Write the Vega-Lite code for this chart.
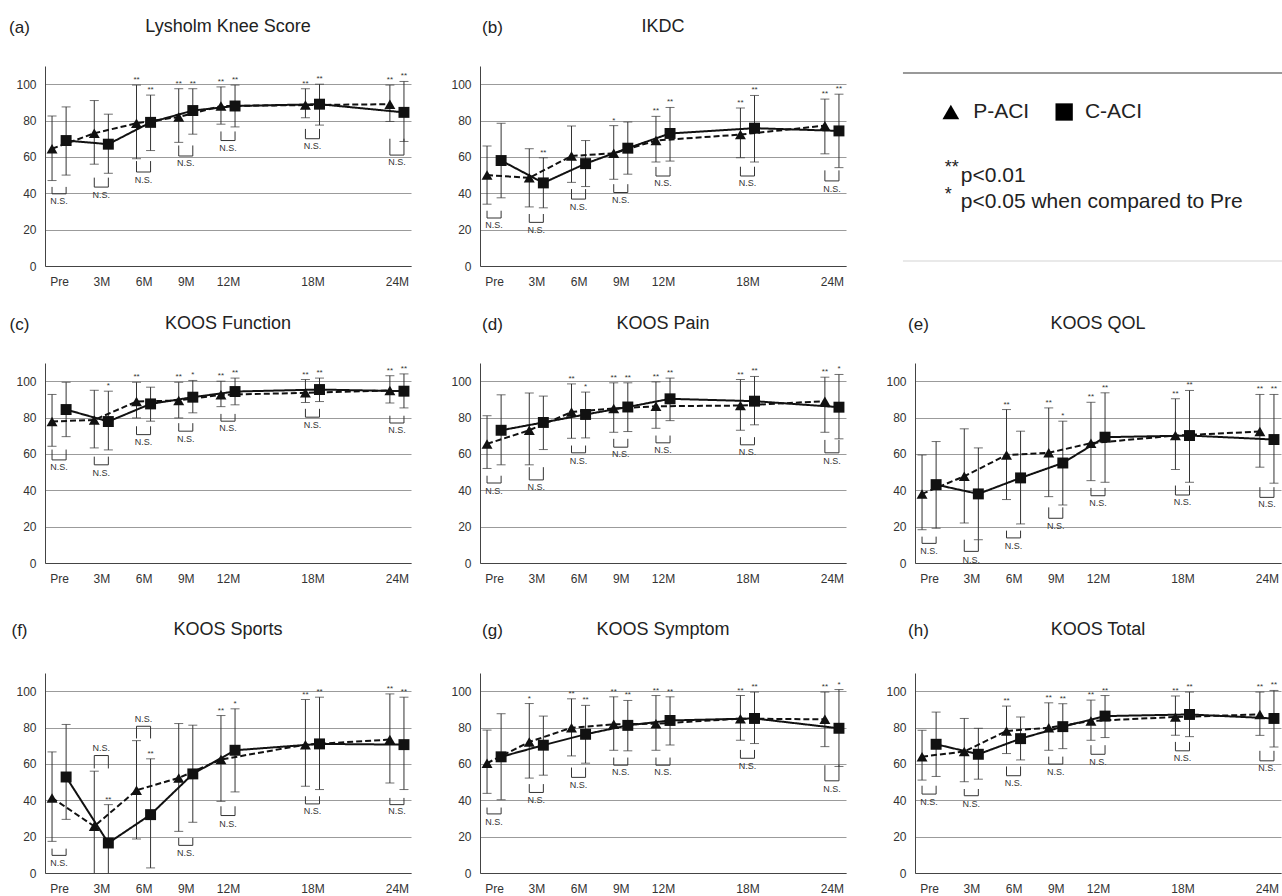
{
"$schema": "https://vega.github.io/schema/vega-lite/v6.json",
"padding": {"left": 8, "top": 18, "right": 0, "bottom": 0},
"background": "white",
"config": {
 "font": "Liberation Sans",
 "view": {"stroke": null},
 "title": {"fontSize": 18, "fontWeight": "normal", "color": "#222", "offset": -18},
 "axisY": {"grid": true, "gridColor": "#9b9b9b", "tickCount": 11, "labelPadding": 9, "tickSize": 0, "titleAngle": 0, "titleAlign": "center", "titleBaseline": "middle", "titleFontSize": 17, "titleFontWeight": "normal", "titleColor": "#222", "labelFontSize": 12, "labelColor": "#333", "domainColor": "#444"},
 "axisX": {"labelPadding": 10, "grid": false, "tickSize": 0, "labelFontSize": 12, "labelColor": "#333", "domainColor": "#444"},
 "rule": {"color": "#333"},
 "tick": {"color": "#333", "thickness": 1, "size": 9},
 "line": {"color": "#111", "strokeWidth": 2},
 "point": {"color": "#111", "size": 120},
 "text": {"fontSize": 8, "color": "#333"}
},
"datasets": {"pts": [
{"p":"a","t":0,"g":"P-ACI","m":64.5,"lo":47,"hi":82.5,"b1":39.7,"b2":43.5,"ny":35.5},
{"p":"a","t":0,"g":"C-ACI","m":69,"lo":50,"hi":87.5},
{"p":"a","t":3,"g":"P-ACI","m":73,"lo":56,"hi":91,"b1":43.4,"b2":48.6,"ny":39},
{"p":"a","t":3,"g":"C-ACI","m":67,"lo":51,"hi":83.5},
{"p":"a","t":6,"g":"P-ACI","m":78.5,"lo":59,"hi":99.5,"s":"**","b1":51.7,"b2":57.7,"ny":47.5},
{"p":"a","t":6,"g":"C-ACI","m":79,"lo":63.5,"hi":94,"s":"**"},
{"p":"a","t":9,"g":"P-ACI","m":82,"lo":68,"hi":97.5,"s":"**","b1":60.5,"b2":66.3,"ny":56.8},
{"p":"a","t":9,"g":"C-ACI","m":85.5,"lo":72.5,"hi":97.5,"s":"**"},
{"p":"a","t":12,"g":"P-ACI","m":88,"lo":78,"hi":98.5,"s":"**","b1":69,"b2":74,"ny":65},
{"p":"a","t":12,"g":"C-ACI","m":88,"lo":76.5,"hi":99.5,"s":"**"},
{"p":"a","t":18,"g":"P-ACI","m":88.5,"lo":81.5,"hi":97.5,"s":"**","b1":70,"b2":75.4,"ny":66},
{"p":"a","t":18,"g":"C-ACI","m":89,"lo":77.5,"hi":100,"s":"**"},
{"p":"a","t":24,"g":"P-ACI","m":89,"lo":79.5,"hi":99.5,"s":"**","b1":61,"b2":70,"ny":57},
{"p":"a","t":24,"g":"C-ACI","m":84.5,"lo":68.5,"hi":101.5,"s":"**"},
{"p":"b","t":0,"g":"P-ACI","m":50,"lo":34,"hi":66,"b1":26.4,"b2":30.4,"ny":22.6},
{"p":"b","t":0,"g":"C-ACI","m":58,"lo":37.5,"hi":78.5},
{"p":"b","t":3,"g":"P-ACI","m":48.5,"lo":32.5,"hi":64.5,"b1":24,"b2":28.6,"ny":20},
{"p":"b","t":3,"g":"C-ACI","m":45.7,"lo":32,"hi":59.5,"s":"**"},
{"p":"b","t":6,"g":"P-ACI","m":60.5,"lo":46,"hi":77,"b1":36.8,"b2":42.3,"ny":32.6},
{"p":"b","t":6,"g":"C-ACI","m":56.3,"lo":43.7,"hi":69},
{"p":"b","t":9,"g":"P-ACI","m":62,"lo":47.7,"hi":77.2,"s":"*","b1":40.4,"b2":45,"ny":36.4},
{"p":"b","t":9,"g":"C-ACI","m":64.8,"lo":50.5,"hi":79.2},
{"p":"b","t":12,"g":"P-ACI","m":69,"lo":57.2,"hi":82.3,"s":"**","b1":49.5,"b2":54.5,"ny":45.5},
{"p":"b","t":12,"g":"C-ACI","m":72.9,"lo":57.7,"hi":87.2,"s":"**"},
{"p":"b","t":18,"g":"P-ACI","m":72.3,"lo":59.6,"hi":86.9,"s":"**","b1":49.5,"b2":54.6,"ny":45.5},
{"p":"b","t":18,"g":"C-ACI","m":75.8,"lo":57.2,"hi":93.8,"s":"**"},
{"p":"b","t":24,"g":"P-ACI","m":77.2,"lo":61.7,"hi":91.8,"s":"**","b1":46.8,"b2":52.6,"ny":42.6},
{"p":"b","t":24,"g":"C-ACI","m":74.3,"lo":54.1,"hi":94.5,"s":"**"},
{"p":"c","t":0,"g":"P-ACI","m":77.8,"lo":64.2,"hi":92.7,"b1":56.7,"b2":62.4,"ny":52.7},
{"p":"c","t":0,"g":"C-ACI","m":84.4,"lo":69.5,"hi":99.4},
{"p":"c","t":3,"g":"P-ACI","m":78.7,"lo":63.3,"hi":95,"b1":54,"b2":58.5,"ny":49.7},
{"p":"c","t":3,"g":"C-ACI","m":77.8,"lo":62.2,"hi":94.5,"s":"*"},
{"p":"c","t":6,"g":"P-ACI","m":88.8,"lo":79.8,"hi":99.4,"s":"**","b1":70.6,"b2":75.2,"ny":66.4},
{"p":"c","t":6,"g":"C-ACI","m":87.5,"lo":78,"hi":96.7},
{"p":"c","t":9,"g":"P-ACI","m":89.4,"lo":79.8,"hi":99.4,"s":"**","b1":72.5,"b2":76.9,"ny":68.3},
{"p":"c","t":9,"g":"C-ACI","m":91.2,"lo":82.6,"hi":100.4,"s":"*"},
{"p":"c","t":12,"g":"P-ACI","m":92.5,"lo":86,"hi":100,"s":"**","b1":78,"b2":82,"ny":74.3},
{"p":"c","t":12,"g":"C-ACI","m":94.3,"lo":87,"hi":101.7,"s":"**"},
{"p":"c","t":18,"g":"P-ACI","m":93.6,"lo":88.3,"hi":100.9,"s":"**","b1":80.2,"b2":84.8,"ny":76.1},
{"p":"c","t":18,"g":"C-ACI","m":95.4,"lo":88.8,"hi":101.7,"s":"**"},
{"p":"c","t":24,"g":"P-ACI","m":94.9,"lo":88,"hi":103,"s":"**","b1":77,"b2":81,"ny":73.2},
{"p":"c","t":24,"g":"C-ACI","m":94.5,"lo":85.3,"hi":104,"s":"**"},
{"p":"d","t":0,"g":"P-ACI","m":65.5,"lo":52,"hi":81,"b1":44,"b2":48,"ny":39.8},
{"p":"d","t":0,"g":"C-ACI","m":73,"lo":54,"hi":92.5},
{"p":"d","t":3,"g":"P-ACI","m":73,"lo":54,"hi":93.5,"b1":45.7,"b2":52.7,"ny":42},
{"p":"d","t":3,"g":"C-ACI","m":77.3,"lo":62.4,"hi":91.8},
{"p":"d","t":6,"g":"P-ACI","m":83,"lo":68.6,"hi":98.5,"s":"**","b1":60.6,"b2":64.6,"ny":56.3},
{"p":"d","t":6,"g":"C-ACI","m":81.7,"lo":68.8,"hi":94,"s":"*"},
{"p":"d","t":9,"g":"P-ACI","m":85,"lo":71.9,"hi":99.1,"s":"**","b1":63.7,"b2":68.3,"ny":60},
{"p":"d","t":9,"g":"C-ACI","m":85.8,"lo":72.3,"hi":99.1,"s":"**"},
{"p":"d","t":12,"g":"P-ACI","m":86.2,"lo":74.1,"hi":99.6,"s":"**","b1":66.1,"b2":70.1,"ny":62.2},
{"p":"d","t":12,"g":"C-ACI","m":90.3,"lo":78.3,"hi":101.7,"s":"**"},
{"p":"d","t":18,"g":"P-ACI","m":86.6,"lo":73,"hi":100.9,"s":"**","b1":65,"b2":69.2,"ny":61.3},
{"p":"d","t":18,"g":"C-ACI","m":89,"lo":76,"hi":102.6,"s":"**"},
{"p":"d","t":24,"g":"P-ACI","m":89,"lo":71.9,"hi":102.2,"s":"**","b1":60.6,"b2":67.7,"ny":56.3},
{"p":"d","t":24,"g":"C-ACI","m":85.7,"lo":68.3,"hi":103.7,"s":"*"},
{"p":"e","t":0,"g":"P-ACI","m":38,"lo":18.3,"hi":59.4,"b1":10.8,"b2":14.5,"ny":6.4},
{"p":"e","t":0,"g":"C-ACI","m":43.1,"lo":19.1,"hi":66.8},
{"p":"e","t":3,"g":"P-ACI","m":47.7,"lo":22,"hi":73.8,"b1":6.4,"b2":12.8,"ny":1.8},
{"p":"e","t":3,"g":"C-ACI","m":38,"lo":12.8,"hi":63.3},
{"p":"e","t":6,"g":"P-ACI","m":59.4,"lo":34.9,"hi":84.4,"s":"**","b1":13.8,"b2":17.8,"ny":9.5},
{"p":"e","t":6,"g":"C-ACI","m":46.8,"lo":21.5,"hi":72.5},
{"p":"e","t":9,"g":"P-ACI","m":60.6,"lo":36.5,"hi":85.3,"s":"**","b1":24.6,"b2":30.6,"ny":20.2},
{"p":"e","t":9,"g":"C-ACI","m":55,"lo":31.9,"hi":78,"s":"*"},
{"p":"e","t":12,"g":"P-ACI","m":65.9,"lo":45.3,"hi":88.4,"s":"**","b1":37,"b2":41.3,"ny":32.8},
{"p":"e","t":12,"g":"C-ACI","m":69.2,"lo":44.4,"hi":93.6,"s":"**"},
{"p":"e","t":18,"g":"P-ACI","m":70.1,"lo":51.4,"hi":90.3,"s":"**","b1":37.4,"b2":42.6,"ny":33.4},
{"p":"e","t":18,"g":"C-ACI","m":70.1,"lo":44.4,"hi":94.9,"s":"**"},
{"p":"e","t":24,"g":"P-ACI","m":72.3,"lo":52.7,"hi":92.7,"s":"**","b1":36.1,"b2":41.7,"ny":32.5},
{"p":"e","t":24,"g":"C-ACI","m":67.9,"lo":43.9,"hi":92.7,"s":"**"},
{"p":"f","t":0,"g":"P-ACI","m":41.3,"lo":17.4,"hi":66.6,"b1":9.7,"b2":13.4,"ny":5.5},
{"p":"f","t":0,"g":"C-ACI","m":52.8,"lo":29.5,"hi":81.7},
{"p":"f","t":3,"g":"P-ACI","m":25.7,"lo":-4,"hi":56,"b1":64.6,"b2":57.5,"ny":68.5},
{"p":"f","t":3,"g":"C-ACI","m":16.5,"lo":-4,"hi":37.6,"s":"**"},
{"p":"f","t":6,"g":"P-ACI","m":45.5,"lo":18.7,"hi":72.8,"b1":80.7,"b2":74,"ny":84.5},
{"p":"f","t":6,"g":"C-ACI","m":32.1,"lo":2.8,"hi":62.8,"s":"**"},
{"p":"f","t":9,"g":"P-ACI","m":52.3,"lo":22.9,"hi":82.2,"b1":15.2,"b2":19.3,"ny":11},
{"p":"f","t":9,"g":"C-ACI","m":54.5,"lo":27.9,"hi":81.3},
{"p":"f","t":12,"g":"P-ACI","m":62.4,"lo":39.4,"hi":86.6,"s":"**","b1":31.6,"b2":36.7,"ny":27.2},
{"p":"f","t":12,"g":"C-ACI","m":67.5,"lo":44.6,"hi":90.3,"s":"*"},
{"p":"f","t":18,"g":"P-ACI","m":70.6,"lo":47.7,"hi":95.4,"s":"**","b1":38,"b2":42.2,"ny":33.9},
{"p":"f","t":18,"g":"C-ACI","m":71,"lo":45.9,"hi":96.7,"s":"**"},
{"p":"f","t":24,"g":"P-ACI","m":73.4,"lo":49.5,"hi":98.5,"s":"**","b1":37.6,"b2":41.3,"ny":33.9},
{"p":"f","t":24,"g":"C-ACI","m":70.6,"lo":45.9,"hi":96.7,"s":"**"},
{"p":"g","t":0,"g":"P-ACI","m":60.4,"lo":43.8,"hi":78.6,"b1":32.5,"b2":36,"ny":28.3},
{"p":"g","t":0,"g":"C-ACI","m":63.9,"lo":40.3,"hi":87.6},
{"p":"g","t":3,"g":"P-ACI","m":72.1,"lo":52.2,"hi":93.2,"s":"*","b1":44.3,"b2":48.9,"ny":40.3},
{"p":"g","t":3,"g":"C-ACI","m":70.3,"lo":53.8,"hi":86.3},
{"p":"g","t":6,"g":"P-ACI","m":79.9,"lo":64.4,"hi":95.8,"s":"**","b1":52.6,"b2":58,"ny":48.4},
{"p":"g","t":6,"g":"C-ACI","m":76.3,"lo":60.4,"hi":92.2,"s":"**"},
{"p":"g","t":9,"g":"P-ACI","m":81.8,"lo":67.5,"hi":96.9,"s":"**","b1":59.3,"b2":63.5,"ny":55.3},
{"p":"g","t":9,"g":"C-ACI","m":81.2,"lo":67.2,"hi":94.9,"s":"**"},
{"p":"g","t":12,"g":"P-ACI","m":82.1,"lo":67.5,"hi":97.6,"s":"**","b1":59.3,"b2":63.5,"ny":55.3},
{"p":"g","t":12,"g":"C-ACI","m":83.9,"lo":70.4,"hi":96.9,"s":"**"},
{"p":"g","t":18,"g":"P-ACI","m":84.9,"lo":73,"hi":97.6,"s":"**","b1":63.1,"b2":67.7,"ny":58.9},
{"p":"g","t":18,"g":"C-ACI","m":85,"lo":71.2,"hi":99.5,"s":"**"},
{"p":"g","t":24,"g":"P-ACI","m":84.5,"lo":69.5,"hi":99.5,"s":"**","b1":50.7,"b2":59.3,"ny":46.2},
{"p":"g","t":24,"g":"C-ACI","m":79.6,"lo":58.6,"hi":100.9,"s":"*"},
{"p":"h","t":0,"g":"P-ACI","m":64,"lo":51.1,"hi":78.5,"b1":43.4,"b2":48,"ny":39.2},
{"p":"h","t":0,"g":"C-ACI","m":70.8,"lo":53.1,"hi":88.5},
{"p":"h","t":3,"g":"P-ACI","m":66.8,"lo":50.2,"hi":85,"b1":42.5,"b2":46.2,"ny":38},
{"p":"h","t":3,"g":"C-ACI","m":65.3,"lo":51.6,"hi":79.6},
{"p":"h","t":6,"g":"P-ACI","m":78.1,"lo":65.7,"hi":91.8,"s":"**","b1":53.5,"b2":58.6,"ny":49.5},
{"p":"h","t":6,"g":"C-ACI","m":73.9,"lo":62.2,"hi":85.8},
{"p":"h","t":9,"g":"P-ACI","m":79.9,"lo":67.5,"hi":93.6,"s":"**","b1":59.9,"b2":64,"ny":55.3},
{"p":"h","t":9,"g":"C-ACI","m":80.5,"lo":68.4,"hi":93.1,"s":"**"},
{"p":"h","t":12,"g":"P-ACI","m":83.6,"lo":73,"hi":95.1,"s":"**","b1":65.3,"b2":70.3,"ny":61.1},
{"p":"h","t":12,"g":"C-ACI","m":86.3,"lo":74.5,"hi":97.6,"s":"**"},
{"p":"h","t":18,"g":"P-ACI","m":85.8,"lo":75.7,"hi":97.3,"s":"**","b1":67.2,"b2":72.1,"ny":63},
{"p":"h","t":18,"g":"C-ACI","m":87.2,"lo":75,"hi":99.5,"s":"**"},
{"p":"h","t":24,"g":"P-ACI","m":87.2,"lo":75.7,"hi":99.5,"s":"**","b1":61.7,"b2":67.2,"ny":57.5},
{"p":"h","t":24,"g":"C-ACI","m":85,"lo":69.3,"hi":100.4,"s":"**"}
]},
"spacing": 28,
"vconcat": [
{"hconcat": [
{"width": 366, "height": 200, "title": {"text": "Lysholm Knee Score"}, "data": {"name": "pts"}, "transform": [{"filter": "datum.p=='a'"}, {"calculate": "datum.t+(datum.g=='P-ACI'?-0.5:0.5)", "as": "xp"}],
 "layer": [
  {"mark": {"type": "rule", "clip": true}, "encoding": {"x": {"field": "xp", "type": "quantitative", "scale": {"domain": [-1, 25], "nice": false, "zero": false}, "axis": {"values": [0,3,6,9,12,18,24], "labelExpr": "datum.value==0?'Pre':datum.value+'M'", "title": null}}, "y": {"field": "lo", "type": "quantitative", "scale": {"domain": [0,110], "nice": false}, "axis": {"values": [0,20,40,60,80,100], "title": "(a)", "titleX": -26, "titleY": -39}}, "y2": {"field": "hi"}}},
  {"transform": [{"fold": ["lo","hi"], "as": ["k","v"]}], "mark": {"type": "tick", "orient": "horizontal", "clip": true}, "encoding": {"x": {"field": "xp", "type": "quantitative"}, "y": {"field": "v", "type": "quantitative"}}},
  {"mark": "line", "encoding": {"x": {"field": "xp", "type": "quantitative"}, "y": {"field": "m", "type": "quantitative"}, "strokeDash": {"field": "g", "type": "nominal", "scale": {"domain": ["P-ACI","C-ACI"], "range": [[6,3],[1,0]]}, "legend": null}}},
  {"mark": {"type": "point", "filled": true, "opacity": 1}, "encoding": {"x": {"field": "xp", "type": "quantitative"}, "y": {"field": "m", "type": "quantitative"}, "shape": {"field": "g", "type": "nominal", "scale": {"domain": ["P-ACI","C-ACI"], "range": ["triangle-up","square"]}, "legend": null}}},
  {"transform": [{"filter": "datum.s"}], "mark": {"type": "text", "baseline": "bottom", "dy": -1}, "encoding": {"x": {"field": "xp", "type": "quantitative"}, "y": {"field": "hi", "type": "quantitative"}, "text": {"field": "s"}}},
  {"transform": [{"filter": "datum.b1"}], "mark": "rule", "encoding": {"x": {"field": "xp", "type": "quantitative"}, "y": {"field": "b1", "type": "quantitative"}, "y2": {"field": "b2"}}},
  {"transform": [{"filter": "datum.b1"}, {"calculate": "datum.t+0.5", "as": "xr"}], "mark": "rule", "encoding": {"x": {"field": "xr", "type": "quantitative"}, "y": {"field": "b1", "type": "quantitative"}, "y2": {"field": "b2"}}},
  {"transform": [{"filter": "datum.b1"}, {"calculate": "datum.t+0.5", "as": "xr"}], "mark": "rule", "encoding": {"x": {"field": "xp", "type": "quantitative"}, "x2": {"field": "xr"}, "y": {"field": "b1", "type": "quantitative"}}},
  {"transform": [{"filter": "datum.b1"}], "mark": {"type": "text", "text": "N.S.", "fontSize": 9, "baseline": "middle"}, "encoding": {"x": {"field": "t", "type": "quantitative"}, "y": {"field": "ny", "type": "quantitative"}}}
 ]},
{"width": 366, "height": 200, "title": {"text": "IKDC"}, "data": {"name": "pts"}, "transform": [{"filter": "datum.p=='b'"}, {"calculate": "datum.t+(datum.g=='P-ACI'?-0.5:0.5)", "as": "xp"}],
 "layer": [
  {"mark": {"type": "rule", "clip": true}, "encoding": {"x": {"field": "xp", "type": "quantitative", "scale": {"domain": [-1, 25], "nice": false, "zero": false}, "axis": {"values": [0,3,6,9,12,18,24], "labelExpr": "datum.value==0?'Pre':datum.value+'M'", "title": null}}, "y": {"field": "lo", "type": "quantitative", "scale": {"domain": [0,110], "nice": false}, "axis": {"values": [0,20,40,60,80,100], "title": "(b)", "titleX": 12, "titleY": -39}}, "y2": {"field": "hi"}}},
  {"transform": [{"fold": ["lo","hi"], "as": ["k","v"]}], "mark": {"type": "tick", "orient": "horizontal", "clip": true}, "encoding": {"x": {"field": "xp", "type": "quantitative"}, "y": {"field": "v", "type": "quantitative"}}},
  {"mark": "line", "encoding": {"x": {"field": "xp", "type": "quantitative"}, "y": {"field": "m", "type": "quantitative"}, "strokeDash": {"field": "g", "type": "nominal", "scale": {"domain": ["P-ACI","C-ACI"], "range": [[6,3],[1,0]]}, "legend": null}}},
  {"mark": {"type": "point", "filled": true, "opacity": 1}, "encoding": {"x": {"field": "xp", "type": "quantitative"}, "y": {"field": "m", "type": "quantitative"}, "shape": {"field": "g", "type": "nominal", "scale": {"domain": ["P-ACI","C-ACI"], "range": ["triangle-up","square"]}, "legend": null}}},
  {"transform": [{"filter": "datum.s"}], "mark": {"type": "text", "baseline": "bottom", "dy": -1}, "encoding": {"x": {"field": "xp", "type": "quantitative"}, "y": {"field": "hi", "type": "quantitative"}, "text": {"field": "s"}}},
  {"transform": [{"filter": "datum.b1"}], "mark": "rule", "encoding": {"x": {"field": "xp", "type": "quantitative"}, "y": {"field": "b1", "type": "quantitative"}, "y2": {"field": "b2"}}},
  {"transform": [{"filter": "datum.b1"}, {"calculate": "datum.t+0.5", "as": "xr"}], "mark": "rule", "encoding": {"x": {"field": "xr", "type": "quantitative"}, "y": {"field": "b1", "type": "quantitative"}, "y2": {"field": "b2"}}},
  {"transform": [{"filter": "datum.b1"}, {"calculate": "datum.t+0.5", "as": "xr"}], "mark": "rule", "encoding": {"x": {"field": "xp", "type": "quantitative"}, "x2": {"field": "xr"}, "y": {"field": "b1", "type": "quantitative"}}},
  {"transform": [{"filter": "datum.b1"}], "mark": {"type": "text", "text": "N.S.", "fontSize": 9, "baseline": "middle"}, "encoding": {"x": {"field": "t", "type": "quantitative"}, "y": {"field": "ny", "type": "quantitative"}}}
 ]},
{"width": 399, "height": 200, "data": {"values": [{}]},
 "layer": [
  {"mark": {"type": "rule", "color": "#777", "strokeWidth": 1.5}, "encoding": {"x": {"datum": 0.045, "type": "quantitative", "scale": {"domain": [0,1], "nice": false, "zero": false}, "axis": null}, "x2": {"datum": 1.0}, "y": {"datum": 0.965, "type": "quantitative", "scale": {"domain": [0,1], "nice": false}, "axis": null}}},
  {"mark": {"type": "rule", "color": "#e2e2e2", "strokeWidth": 1.5}, "encoding": {"x": {"datum": 0.045, "type": "quantitative"}, "x2": {"datum": 1.0}, "y": {"datum": 0.025, "type": "quantitative"}}},
  {"mark": {"type": "point", "shape": "triangle-up", "filled": true, "size": 280, "color": "#000", "opacity": 1}, "encoding": {"x": {"datum": 0.165, "type": "quantitative"}, "y": {"datum": 0.77, "type": "quantitative"}}},
  {"mark": {"type": "point", "shape": "square", "filled": true, "size": 300, "color": "#000", "opacity": 1}, "encoding": {"x": {"datum": 0.449, "type": "quantitative"}, "y": {"datum": 0.77, "type": "quantitative"}}},
  {"mark": {"type": "text", "text": "P-ACI", "align": "left", "baseline": "middle", "fontSize": 21, "color": "#222"}, "encoding": {"x": {"datum": 0.221, "type": "quantitative"}, "y": {"datum": 0.77, "type": "quantitative"}}},
  {"mark": {"type": "text", "text": "C-ACI", "align": "left", "baseline": "middle", "fontSize": 21, "color": "#222"}, "encoding": {"x": {"datum": 0.501, "type": "quantitative"}, "y": {"datum": 0.77, "type": "quantitative"}}},
  {"mark": {"type": "text", "text": "**", "align": "left", "baseline": "middle", "fontSize": 18, "color": "#222"}, "encoding": {"x": {"datum": 0.150, "type": "quantitative"}, "y": {"datum": 0.49, "type": "quantitative"}}},
  {"mark": {"type": "text", "text": "p<0.01", "align": "left", "baseline": "middle", "fontSize": 21, "color": "#222"}, "encoding": {"x": {"datum": 0.190, "type": "quantitative"}, "y": {"datum": 0.45, "type": "quantitative"}}},
  {"mark": {"type": "text", "text": "*", "align": "left", "baseline": "middle", "fontSize": 18, "color": "#222"}, "encoding": {"x": {"datum": 0.150, "type": "quantitative"}, "y": {"datum": 0.355, "type": "quantitative"}}},
  {"mark": {"type": "text", "text": "p<0.05  when compared to Pre", "align": "left", "baseline": "middle", "fontSize": 21, "color": "#222"}, "encoding": {"x": {"datum": 0.190, "type": "quantitative"}, "y": {"datum": 0.32, "type": "quantitative"}}}
 ]}
], "spacing": 39},
{"spacing": 37, "vconcat": [
{"hconcat": [
{"width": 366, "height": 200, "title": {"text": "KOOS Function"}, "data": {"name": "pts"}, "transform": [{"filter": "datum.p=='c'"}, {"calculate": "datum.t+(datum.g=='P-ACI'?-0.5:0.5)", "as": "xp"}],
 "layer": [
  {"mark": {"type": "rule", "clip": true}, "encoding": {"x": {"field": "xp", "type": "quantitative", "scale": {"domain": [-1, 25], "nice": false, "zero": false}, "axis": {"values": [0,3,6,9,12,18,24], "labelExpr": "datum.value==0?'Pre':datum.value+'M'", "title": null}}, "y": {"field": "lo", "type": "quantitative", "scale": {"domain": [0,110], "nice": false}, "axis": {"values": [0,20,40,60,80,100], "title": "(c)", "titleX": -26, "titleY": -39}}, "y2": {"field": "hi"}}},
  {"transform": [{"fold": ["lo","hi"], "as": ["k","v"]}], "mark": {"type": "tick", "orient": "horizontal", "clip": true}, "encoding": {"x": {"field": "xp", "type": "quantitative"}, "y": {"field": "v", "type": "quantitative"}}},
  {"mark": "line", "encoding": {"x": {"field": "xp", "type": "quantitative"}, "y": {"field": "m", "type": "quantitative"}, "strokeDash": {"field": "g", "type": "nominal", "scale": {"domain": ["P-ACI","C-ACI"], "range": [[6,3],[1,0]]}, "legend": null}}},
  {"mark": {"type": "point", "filled": true, "opacity": 1}, "encoding": {"x": {"field": "xp", "type": "quantitative"}, "y": {"field": "m", "type": "quantitative"}, "shape": {"field": "g", "type": "nominal", "scale": {"domain": ["P-ACI","C-ACI"], "range": ["triangle-up","square"]}, "legend": null}}},
  {"transform": [{"filter": "datum.s"}], "mark": {"type": "text", "baseline": "bottom", "dy": -1}, "encoding": {"x": {"field": "xp", "type": "quantitative"}, "y": {"field": "hi", "type": "quantitative"}, "text": {"field": "s"}}},
  {"transform": [{"filter": "datum.b1"}], "mark": "rule", "encoding": {"x": {"field": "xp", "type": "quantitative"}, "y": {"field": "b1", "type": "quantitative"}, "y2": {"field": "b2"}}},
  {"transform": [{"filter": "datum.b1"}, {"calculate": "datum.t+0.5", "as": "xr"}], "mark": "rule", "encoding": {"x": {"field": "xr", "type": "quantitative"}, "y": {"field": "b1", "type": "quantitative"}, "y2": {"field": "b2"}}},
  {"transform": [{"filter": "datum.b1"}, {"calculate": "datum.t+0.5", "as": "xr"}], "mark": "rule", "encoding": {"x": {"field": "xp", "type": "quantitative"}, "x2": {"field": "xr"}, "y": {"field": "b1", "type": "quantitative"}}},
  {"transform": [{"filter": "datum.b1"}], "mark": {"type": "text", "text": "N.S.", "fontSize": 9, "baseline": "middle"}, "encoding": {"x": {"field": "t", "type": "quantitative"}, "y": {"field": "ny", "type": "quantitative"}}}
 ]},
{"width": 366, "height": 200, "title": {"text": "KOOS Pain"}, "data": {"name": "pts"}, "transform": [{"filter": "datum.p=='d'"}, {"calculate": "datum.t+(datum.g=='P-ACI'?-0.5:0.5)", "as": "xp"}],
 "layer": [
  {"mark": {"type": "rule", "clip": true}, "encoding": {"x": {"field": "xp", "type": "quantitative", "scale": {"domain": [-1, 25], "nice": false, "zero": false}, "axis": {"values": [0,3,6,9,12,18,24], "labelExpr": "datum.value==0?'Pre':datum.value+'M'", "title": null}}, "y": {"field": "lo", "type": "quantitative", "scale": {"domain": [0,110], "nice": false}, "axis": {"values": [0,20,40,60,80,100], "title": "(d)", "titleX": 12, "titleY": -39}}, "y2": {"field": "hi"}}},
  {"transform": [{"fold": ["lo","hi"], "as": ["k","v"]}], "mark": {"type": "tick", "orient": "horizontal", "clip": true}, "encoding": {"x": {"field": "xp", "type": "quantitative"}, "y": {"field": "v", "type": "quantitative"}}},
  {"mark": "line", "encoding": {"x": {"field": "xp", "type": "quantitative"}, "y": {"field": "m", "type": "quantitative"}, "strokeDash": {"field": "g", "type": "nominal", "scale": {"domain": ["P-ACI","C-ACI"], "range": [[6,3],[1,0]]}, "legend": null}}},
  {"mark": {"type": "point", "filled": true, "opacity": 1}, "encoding": {"x": {"field": "xp", "type": "quantitative"}, "y": {"field": "m", "type": "quantitative"}, "shape": {"field": "g", "type": "nominal", "scale": {"domain": ["P-ACI","C-ACI"], "range": ["triangle-up","square"]}, "legend": null}}},
  {"transform": [{"filter": "datum.s"}], "mark": {"type": "text", "baseline": "bottom", "dy": -1}, "encoding": {"x": {"field": "xp", "type": "quantitative"}, "y": {"field": "hi", "type": "quantitative"}, "text": {"field": "s"}}},
  {"transform": [{"filter": "datum.b1"}], "mark": "rule", "encoding": {"x": {"field": "xp", "type": "quantitative"}, "y": {"field": "b1", "type": "quantitative"}, "y2": {"field": "b2"}}},
  {"transform": [{"filter": "datum.b1"}, {"calculate": "datum.t+0.5", "as": "xr"}], "mark": "rule", "encoding": {"x": {"field": "xr", "type": "quantitative"}, "y": {"field": "b1", "type": "quantitative"}, "y2": {"field": "b2"}}},
  {"transform": [{"filter": "datum.b1"}, {"calculate": "datum.t+0.5", "as": "xr"}], "mark": "rule", "encoding": {"x": {"field": "xp", "type": "quantitative"}, "x2": {"field": "xr"}, "y": {"field": "b1", "type": "quantitative"}}},
  {"transform": [{"filter": "datum.b1"}], "mark": {"type": "text", "text": "N.S.", "fontSize": 9, "baseline": "middle"}, "encoding": {"x": {"field": "t", "type": "quantitative"}, "y": {"field": "ny", "type": "quantitative"}}}
 ]},
{"width": 366, "height": 200, "title": {"text": "KOOS QOL"}, "data": {"name": "pts"}, "transform": [{"filter": "datum.p=='e'"}, {"calculate": "datum.t+(datum.g=='P-ACI'?-0.5:0.5)", "as": "xp"}],
 "layer": [
  {"mark": {"type": "rule", "clip": true}, "encoding": {"x": {"field": "xp", "type": "quantitative", "scale": {"domain": [-1, 25], "nice": false, "zero": false}, "axis": {"values": [0,3,6,9,12,18,24], "labelExpr": "datum.value==0?'Pre':datum.value+'M'", "title": null}}, "y": {"field": "lo", "type": "quantitative", "scale": {"domain": [0,110], "nice": false}, "axis": {"values": [0,20,40,60,80,100], "title": "(e)", "titleX": 3, "titleY": -39}}, "y2": {"field": "hi"}}},
  {"transform": [{"fold": ["lo","hi"], "as": ["k","v"]}], "mark": {"type": "tick", "orient": "horizontal", "clip": true}, "encoding": {"x": {"field": "xp", "type": "quantitative"}, "y": {"field": "v", "type": "quantitative"}}},
  {"mark": "line", "encoding": {"x": {"field": "xp", "type": "quantitative"}, "y": {"field": "m", "type": "quantitative"}, "strokeDash": {"field": "g", "type": "nominal", "scale": {"domain": ["P-ACI","C-ACI"], "range": [[6,3],[1,0]]}, "legend": null}}},
  {"mark": {"type": "point", "filled": true, "opacity": 1}, "encoding": {"x": {"field": "xp", "type": "quantitative"}, "y": {"field": "m", "type": "quantitative"}, "shape": {"field": "g", "type": "nominal", "scale": {"domain": ["P-ACI","C-ACI"], "range": ["triangle-up","square"]}, "legend": null}}},
  {"transform": [{"filter": "datum.s"}], "mark": {"type": "text", "baseline": "bottom", "dy": -1}, "encoding": {"x": {"field": "xp", "type": "quantitative"}, "y": {"field": "hi", "type": "quantitative"}, "text": {"field": "s"}}},
  {"transform": [{"filter": "datum.b1"}], "mark": "rule", "encoding": {"x": {"field": "xp", "type": "quantitative"}, "y": {"field": "b1", "type": "quantitative"}, "y2": {"field": "b2"}}},
  {"transform": [{"filter": "datum.b1"}, {"calculate": "datum.t+0.5", "as": "xr"}], "mark": "rule", "encoding": {"x": {"field": "xr", "type": "quantitative"}, "y": {"field": "b1", "type": "quantitative"}, "y2": {"field": "b2"}}},
  {"transform": [{"filter": "datum.b1"}, {"calculate": "datum.t+0.5", "as": "xr"}], "mark": "rule", "encoding": {"x": {"field": "xp", "type": "quantitative"}, "x2": {"field": "xr"}, "y": {"field": "b1", "type": "quantitative"}}},
  {"transform": [{"filter": "datum.b1"}], "mark": {"type": "text", "text": "N.S.", "fontSize": 9, "baseline": "middle"}, "encoding": {"x": {"field": "t", "type": "quantitative"}, "y": {"field": "ny", "type": "quantitative"}}}
 ]}
], "spacing": 39},
{"hconcat": [
{"width": 366, "height": 200, "title": {"text": "KOOS Sports"}, "data": {"name": "pts"}, "transform": [{"filter": "datum.p=='f'"}, {"calculate": "datum.t+(datum.g=='P-ACI'?-0.5:0.5)", "as": "xp"}],
 "layer": [
  {"mark": {"type": "rule", "clip": true}, "encoding": {"x": {"field": "xp", "type": "quantitative", "scale": {"domain": [-1, 25], "nice": false, "zero": false}, "axis": {"values": [0,3,6,9,12,18,24], "labelExpr": "datum.value==0?'Pre':datum.value+'M'", "title": null}}, "y": {"field": "lo", "type": "quantitative", "scale": {"domain": [0,110], "nice": false}, "axis": {"values": [0,20,40,60,80,100], "title": "(f)", "titleX": -26, "titleY": -43}}, "y2": {"field": "hi"}}},
  {"transform": [{"fold": ["lo","hi"], "as": ["k","v"]}], "mark": {"type": "tick", "orient": "horizontal", "clip": true}, "encoding": {"x": {"field": "xp", "type": "quantitative"}, "y": {"field": "v", "type": "quantitative"}}},
  {"mark": "line", "encoding": {"x": {"field": "xp", "type": "quantitative"}, "y": {"field": "m", "type": "quantitative"}, "strokeDash": {"field": "g", "type": "nominal", "scale": {"domain": ["P-ACI","C-ACI"], "range": [[6,3],[1,0]]}, "legend": null}}},
  {"mark": {"type": "point", "filled": true, "opacity": 1}, "encoding": {"x": {"field": "xp", "type": "quantitative"}, "y": {"field": "m", "type": "quantitative"}, "shape": {"field": "g", "type": "nominal", "scale": {"domain": ["P-ACI","C-ACI"], "range": ["triangle-up","square"]}, "legend": null}}},
  {"transform": [{"filter": "datum.s"}], "mark": {"type": "text", "baseline": "bottom", "dy": -1}, "encoding": {"x": {"field": "xp", "type": "quantitative"}, "y": {"field": "hi", "type": "quantitative"}, "text": {"field": "s"}}},
  {"transform": [{"filter": "datum.b1"}], "mark": "rule", "encoding": {"x": {"field": "xp", "type": "quantitative"}, "y": {"field": "b1", "type": "quantitative"}, "y2": {"field": "b2"}}},
  {"transform": [{"filter": "datum.b1"}, {"calculate": "datum.t+0.5", "as": "xr"}], "mark": "rule", "encoding": {"x": {"field": "xr", "type": "quantitative"}, "y": {"field": "b1", "type": "quantitative"}, "y2": {"field": "b2"}}},
  {"transform": [{"filter": "datum.b1"}, {"calculate": "datum.t+0.5", "as": "xr"}], "mark": "rule", "encoding": {"x": {"field": "xp", "type": "quantitative"}, "x2": {"field": "xr"}, "y": {"field": "b1", "type": "quantitative"}}},
  {"transform": [{"filter": "datum.b1"}], "mark": {"type": "text", "text": "N.S.", "fontSize": 9, "baseline": "middle"}, "encoding": {"x": {"field": "t", "type": "quantitative"}, "y": {"field": "ny", "type": "quantitative"}}}
 ]},
{"width": 366, "height": 200, "title": {"text": "KOOS Symptom"}, "data": {"name": "pts"}, "transform": [{"filter": "datum.p=='g'"}, {"calculate": "datum.t+(datum.g=='P-ACI'?-0.5:0.5)", "as": "xp"}],
 "layer": [
  {"mark": {"type": "rule", "clip": true}, "encoding": {"x": {"field": "xp", "type": "quantitative", "scale": {"domain": [-1, 25], "nice": false, "zero": false}, "axis": {"values": [0,3,6,9,12,18,24], "labelExpr": "datum.value==0?'Pre':datum.value+'M'", "title": null}}, "y": {"field": "lo", "type": "quantitative", "scale": {"domain": [0,110], "nice": false}, "axis": {"values": [0,20,40,60,80,100], "title": "(g)", "titleX": 12, "titleY": -43}}, "y2": {"field": "hi"}}},
  {"transform": [{"fold": ["lo","hi"], "as": ["k","v"]}], "mark": {"type": "tick", "orient": "horizontal", "clip": true}, "encoding": {"x": {"field": "xp", "type": "quantitative"}, "y": {"field": "v", "type": "quantitative"}}},
  {"mark": "line", "encoding": {"x": {"field": "xp", "type": "quantitative"}, "y": {"field": "m", "type": "quantitative"}, "strokeDash": {"field": "g", "type": "nominal", "scale": {"domain": ["P-ACI","C-ACI"], "range": [[6,3],[1,0]]}, "legend": null}}},
  {"mark": {"type": "point", "filled": true, "opacity": 1}, "encoding": {"x": {"field": "xp", "type": "quantitative"}, "y": {"field": "m", "type": "quantitative"}, "shape": {"field": "g", "type": "nominal", "scale": {"domain": ["P-ACI","C-ACI"], "range": ["triangle-up","square"]}, "legend": null}}},
  {"transform": [{"filter": "datum.s"}], "mark": {"type": "text", "baseline": "bottom", "dy": -1}, "encoding": {"x": {"field": "xp", "type": "quantitative"}, "y": {"field": "hi", "type": "quantitative"}, "text": {"field": "s"}}},
  {"transform": [{"filter": "datum.b1"}], "mark": "rule", "encoding": {"x": {"field": "xp", "type": "quantitative"}, "y": {"field": "b1", "type": "quantitative"}, "y2": {"field": "b2"}}},
  {"transform": [{"filter": "datum.b1"}, {"calculate": "datum.t+0.5", "as": "xr"}], "mark": "rule", "encoding": {"x": {"field": "xr", "type": "quantitative"}, "y": {"field": "b1", "type": "quantitative"}, "y2": {"field": "b2"}}},
  {"transform": [{"filter": "datum.b1"}, {"calculate": "datum.t+0.5", "as": "xr"}], "mark": "rule", "encoding": {"x": {"field": "xp", "type": "quantitative"}, "x2": {"field": "xr"}, "y": {"field": "b1", "type": "quantitative"}}},
  {"transform": [{"filter": "datum.b1"}], "mark": {"type": "text", "text": "N.S.", "fontSize": 9, "baseline": "middle"}, "encoding": {"x": {"field": "t", "type": "quantitative"}, "y": {"field": "ny", "type": "quantitative"}}}
 ]},
{"width": 366, "height": 200, "title": {"text": "KOOS Total"}, "data": {"name": "pts"}, "transform": [{"filter": "datum.p=='h'"}, {"calculate": "datum.t+(datum.g=='P-ACI'?-0.5:0.5)", "as": "xp"}],
 "layer": [
  {"mark": {"type": "rule", "clip": true}, "encoding": {"x": {"field": "xp", "type": "quantitative", "scale": {"domain": [-1, 25], "nice": false, "zero": false}, "axis": {"values": [0,3,6,9,12,18,24], "labelExpr": "datum.value==0?'Pre':datum.value+'M'", "title": null}}, "y": {"field": "lo", "type": "quantitative", "scale": {"domain": [0,110], "nice": false}, "axis": {"values": [0,20,40,60,80,100], "title": "(h)", "titleX": 3, "titleY": -43}}, "y2": {"field": "hi"}}},
  {"transform": [{"fold": ["lo","hi"], "as": ["k","v"]}], "mark": {"type": "tick", "orient": "horizontal", "clip": true}, "encoding": {"x": {"field": "xp", "type": "quantitative"}, "y": {"field": "v", "type": "quantitative"}}},
  {"mark": "line", "encoding": {"x": {"field": "xp", "type": "quantitative"}, "y": {"field": "m", "type": "quantitative"}, "strokeDash": {"field": "g", "type": "nominal", "scale": {"domain": ["P-ACI","C-ACI"], "range": [[6,3],[1,0]]}, "legend": null}}},
  {"mark": {"type": "point", "filled": true, "opacity": 1}, "encoding": {"x": {"field": "xp", "type": "quantitative"}, "y": {"field": "m", "type": "quantitative"}, "shape": {"field": "g", "type": "nominal", "scale": {"domain": ["P-ACI","C-ACI"], "range": ["triangle-up","square"]}, "legend": null}}},
  {"transform": [{"filter": "datum.s"}], "mark": {"type": "text", "baseline": "bottom", "dy": -1}, "encoding": {"x": {"field": "xp", "type": "quantitative"}, "y": {"field": "hi", "type": "quantitative"}, "text": {"field": "s"}}},
  {"transform": [{"filter": "datum.b1"}], "mark": "rule", "encoding": {"x": {"field": "xp", "type": "quantitative"}, "y": {"field": "b1", "type": "quantitative"}, "y2": {"field": "b2"}}},
  {"transform": [{"filter": "datum.b1"}, {"calculate": "datum.t+0.5", "as": "xr"}], "mark": "rule", "encoding": {"x": {"field": "xr", "type": "quantitative"}, "y": {"field": "b1", "type": "quantitative"}, "y2": {"field": "b2"}}},
  {"transform": [{"filter": "datum.b1"}, {"calculate": "datum.t+0.5", "as": "xr"}], "mark": "rule", "encoding": {"x": {"field": "xp", "type": "quantitative"}, "x2": {"field": "xr"}, "y": {"field": "b1", "type": "quantitative"}}},
  {"transform": [{"filter": "datum.b1"}], "mark": {"type": "text", "text": "N.S.", "fontSize": 9, "baseline": "middle"}, "encoding": {"x": {"field": "t", "type": "quantitative"}, "y": {"field": "ny", "type": "quantitative"}}}
 ]}
], "spacing": 39}
]}
]
}
